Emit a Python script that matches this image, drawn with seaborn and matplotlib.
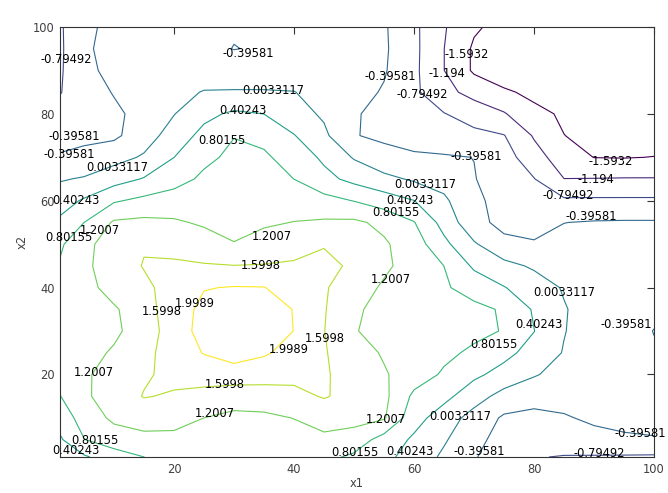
import numpy as np
import matplotlib
matplotlib.use("Agg")
import matplotlib.pyplot as plt
import seaborn as sns
from matplotlib.colors import Normalize

# grid coordinates
x1 = [1, 5, 10, 15, 20, 25, 30, 35, 40, 45, 50, 55, 60, 65, 70, 75, 80, 85, 90, 95, 100]
x2 = [1, 5, 10, 15, 20, 25, 30, 35, 40, 45, 50, 55, 60, 65, 70, 75, 80, 85, 90, 95, 100]

# field values, one row per x2 value
z_rows = [
    [0.12, 0.35, 0.62, 0.80, 0.90, 0.90, 0.88, 0.88, 0.90, 0.90, 0.73, 0.50, 0.25, -0.07, -0.37, -0.58, -0.77, -0.82, -0.83, -0.84, -0.85],
    [0.35, 0.79, 1.00, 1.10, 1.10, 1.02, 0.95, 0.96, 1.03, 1.12, 1.03, 0.64, 0.34, 0.05, -0.30, -0.52, -0.60, -0.55, -0.48, -0.43, -0.41],
    [0.57, 0.97, 1.28, 1.36, 1.34, 1.20, 1.10, 1.12, 1.21, 1.35, 1.33, 1.24, 0.55, 0.21, -0.15, -0.45, -0.48, -0.42, -0.35, -0.33, -0.33],
    [0.79, 1.14, 1.38, 1.62, 1.56, 1.49, 1.40, 1.42, 1.49, 1.63, 1.48, 1.30, 0.72, 0.51, 0.18, -0.14, -0.28, -0.30, -0.30, -0.31, -0.33],
    [0.90, 1.13, 1.40, 1.55, 1.70, 1.75, 1.79, 1.76, 1.71, 1.64, 1.45, 1.24, 1.00, 0.75, 0.48, 0.27, 0.04, -0.15, -0.25, -0.33, -0.38],
    [0.92, 1.05, 1.25, 1.50, 1.76, 2.02, 2.20, 2.05, 1.85, 1.63, 1.38, 1.16, 1.03, 0.89, 0.73, 0.51, 0.26, -0.02, -0.22, -0.33, -0.38],
    [0.93, 0.99, 1.12, 1.41, 1.78, 2.15, 2.38, 2.30, 1.99, 1.61, 1.21, 1.15, 1.07, 0.98, 0.90, 0.78, 0.41, 0.02, -0.20, -0.32, -0.40],
    [0.92, 0.98, 1.15, 1.45, 1.80, 2.10, 2.30, 2.25, 1.98, 1.63, 1.24, 1.12, 1.04, 0.95, 0.90, 0.76, 0.36, 0.03, -0.17, -0.28, -0.36],
    [0.88, 1.05, 1.37, 1.52, 1.75, 1.98, 2.02, 2.01, 1.83, 1.64, 1.38, 1.15, 1.00, 0.85, 0.64, 0.42, 0.20, -0.03, -0.15, -0.22, -0.27],
    [0.84, 1.12, 1.40, 1.62, 1.66, 1.63, 1.61, 1.62, 1.65, 1.68, 1.55, 1.27, 1.04, 0.80, 0.34, 0.12, -0.05, -0.15, -0.20, -0.22, -0.24],
    [0.74, 1.10, 1.38, 1.57, 1.47, 1.38, 1.21, 1.35, 1.45, 1.58, 1.45, 1.25, 1.00, 0.50, 0.05, -0.30, -0.37, -0.30, -0.26, -0.25, -0.25],
    [0.48, 0.80, 1.25, 1.29, 1.25, 1.15, 1.13, 1.15, 1.21, 1.25, 1.27, 1.11, 0.82, 0.26, -0.28, -0.50, -0.50, -0.40, -0.37, -0.36, -0.36],
    [0.23, 0.45, 0.76, 0.90, 0.97, 1.01, 1.04, 1.06, 1.01, 0.93, 0.79, 0.60, 0.41, 0.07, -0.31, -0.54, -0.64, -0.73, -0.73, -0.73, -0.73],
    [-0.03, 0.04, 0.24, 0.43, 0.66, 0.87, 0.95, 0.95, 0.80, 0.52, 0.29, 0.11, -0.05, -0.14, -0.38, -0.57, -0.78, -1.19, -1.18, -1.17, -1.17],
    [-0.36, -0.30, -0.14, 0.05, 0.40, 0.72, 0.88, 0.86, 0.64, 0.33, -0.03, -0.28, -0.34, -0.36, -0.40, -0.62, -1.04, -1.39, -1.60, -1.61, -1.585],
    [-0.53, -0.48, -0.47, -0.18, 0.18, 0.52, 0.79, 0.70, 0.42, 0.08, -0.38, -0.46, -0.55, -0.62, -0.70, -0.78, -1.23, -1.59, -1.66, -1.72, -1.77],
    [-0.70, -0.59, -0.48, -0.25, -0.01, 0.30, 0.47, 0.40, 0.15, -0.05, -0.36, -0.51, -0.64, -0.78, -0.96, -1.16, -1.52, -1.63, -1.70, -1.76, -1.82],
    [-0.81, -0.61, -0.37, -0.23, -0.09, 0.02, 0.03, 0.03, 0.01, -0.09, -0.26, -0.43, -0.72, -1.07, -1.33, -1.55, -1.66, -1.74, -1.80, -1.85, -1.90],
    [-0.84, -0.50, -0.28, -0.16, -0.12, -0.17, -0.20, -0.20, -0.15, -0.12, -0.20, -0.36, -0.71, -1.19, -1.65, -1.77, -1.83, -1.87, -1.91, -1.94, -1.96],
    [-0.86, -0.44, -0.30, -0.22, -0.22, -0.30, -0.405, -0.36, -0.26, -0.20, -0.24, -0.34, -0.70, -1.19, -1.65, -1.78, -1.84, -1.88, -1.92, -1.95, -1.97],
    [-0.85, -0.45, -0.33, -0.28, -0.27, -0.31, -0.36, -0.35, -0.30, -0.27, -0.29, -0.35, -0.71, -1.16, -1.54, -1.72, -1.80, -1.86, -1.91, -1.95, -1.99],
]

# contour levels as labelled in the chart
levels = [-1.5932, -1.194, -0.79492, -0.39581, 0.0033117, 0.40243, 0.80155, 1.2007, 1.5998, 1.9989]

# tick values
x_ticks = [20, 40, 60, 80, 100]
y_ticks = [20, 40, 60, 80, 100]

# label placement: (level index, x1, x2)
label_spots = [
    (2, 2.0, 92.5), (3, 32.3, 93.9), (4, 36.5, 85.4), (5, 31.5, 80.8), (6, 28.0, 73.9),
    (3, 3.3, 74.8), (3, 2.5, 70.7), (4, 10.5, 67.7), (5, 3.7, 60.1), (6, 2.5, 51.6),
    (7, 7.7, 53.2), (7, 36.3, 51.8), (8, 34.5, 45.1), (7, 56.2, 41.9), (9, 23.5, 36.4),
    (8, 18.0, 34.5), (8, 45.2, 28.3), (9, 39.2, 25.8), (7, 6.7, 20.5), (8, 28.5, 17.7),
    (7, 26.8, 11.0), (7, 55.3, 9.7), (4, 67.7, 10.4), (6, 6.8, 4.8), (5, 3.7, 2.5),
    (6, 50.2, 2.1), (5, 59.3, 2.3), (3, 70.8, 2.3), (2, 90.8, 1.8), (3, 97.7, 6.4),
    (3, 95.3, 31.5), (4, 85.0, 38.9), (5, 80.8, 31.5), (6, 73.3, 26.9), (4, 61.8, 63.8),
    (5, 59.3, 60.1), (6, 57.0, 57.3), (3, 70.3, 70.2), (3, 56.0, 88.6), (2, 61.3, 84.5),
    (0, 68.7, 93.7), (1, 65.5, 89.3), (0, 92.8, 69.0), (1, 90.3, 64.9), (2, 85.7, 61.2),
    (3, 89.5, 56.4),
]

sns.set_style("white")
plt.rcParams['font.family'] = ['DejaVu Sans']

Z = np.array(z_rows)
fig = plt.figure(figsize=(6.68, 4.93), dpi=100)
ax = fig.add_axes([60 / 668, 1 - 457 / 493, 594 / 668, 430 / 493])

cmap = sns.color_palette("viridis", as_cmap=True)
norm = Normalize(vmin=min(levels), vmax=max(levels))
ax.contour(x1, x2, Z, levels=levels, cmap=cmap, norm=norm, linewidths=0.8)

for idx, lx, ly in label_spots:
    ax.text(lx, ly, '%.5g' % levels[idx], ha='center', va='center',
            fontsize=8.3, color='black', clip_on=False, zorder=5)

ax.set_xlim(1, 100)
ax.set_ylim(1, 100)
ax.set_xticks(x_ticks)
ax.set_yticks(y_ticks)
ax.tick_params(direction='in', top=True, right=True, length=5, width=0.8,
               labelsize=8.3, labelcolor='#404040', color='#333333', pad=4)
for s in ax.spines.values():
    s.set_color('#333333')
    s.set_linewidth(0.8)
ax.set_xlabel('x1', fontsize=8.3, color='#404040', labelpad=1)
ax.set_ylabel('x2', fontsize=8.3, color='#404040', labelpad=3)

fig.savefig('out.png', dpi=100)
